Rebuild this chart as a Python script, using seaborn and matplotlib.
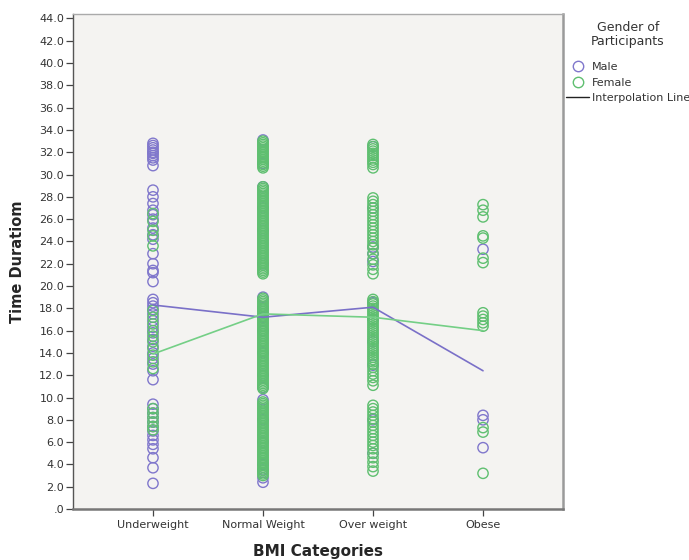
import matplotlib
matplotlib.use("Agg")
import matplotlib.pyplot as plt
from matplotlib.lines import Line2D
import seaborn as sns
import pandas as pd

categories = ["Underweight", "Normal Weight", "Over weight", "Obese"]
genders = ["Male", "Female"]

# Time Duration values, per BMI category and gender
under_male = [32.8, 32.6, 32.4, 32.2, 32.0, 31.9, 31.7, 31.5, 31.3, 30.8,
              28.6, 28.0, 27.4, 26.8, 26.4, 26.0, 25.2, 24.6, 24.2, 22.9, 22.0, 21.4, 21.2, 20.4,
              18.8, 18.5, 18.2, 17.9, 17.5, 16.9, 16.3, 15.8, 15.2, 14.6, 14.0, 13.5, 13.0, 12.4, 11.6,
              9.4, 9.0, 8.6, 8.2, 7.8, 7.4, 7.0, 6.6, 6.2, 5.8, 5.4, 4.6, 3.7, 2.3]
under_female = [26.5, 25.8, 25.0, 24.5, 23.6,
                17.8, 17.2, 16.6, 16.0, 15.5, 15.0, 14.4, 13.8, 13.2, 12.6,
                9.0, 8.6, 8.2, 7.8, 7.4, 7.1]
normal_male = [33.1, 31.0, 28.9, 27.0, 25.0, 22.0, 19.0, 18.0, 17.2, 16.0, 14.0, 12.0,
               10.9, 9.8, 8.0, 6.0, 4.0, 3.5, 2.8, 2.4]
normal_female = [33.0, 32.85, 32.7, 32.55, 32.4, 32.25, 32.1, 31.95, 31.8, 31.65, 31.5,
                 31.35, 31.2, 31.05, 30.9, 30.75, 30.6,
                 28.9, 28.75, 28.6, 28.45, 28.3, 28.15, 28.0, 27.85, 27.7, 27.55, 27.4, 27.25,
                 27.1, 26.95, 26.8, 26.65, 26.5, 26.35, 26.2, 26.05, 25.9, 25.75, 25.6, 25.45,
                 25.3, 25.15, 25.0, 24.85, 24.7, 24.55, 24.4, 24.25, 24.1, 23.95, 23.8, 23.65,
                 23.5, 23.35, 23.2, 23.05, 22.9, 22.75, 22.6, 22.45, 22.3, 22.15, 22.0, 21.85,
                 21.7, 21.55, 21.4, 21.25, 21.1,
                 18.9, 18.75, 18.6, 18.45, 18.3, 18.15, 18.0, 17.85, 17.7, 17.55, 17.4, 17.25,
                 17.1, 16.95, 16.8, 16.65, 16.5, 16.35, 16.2, 16.05, 15.9, 15.75, 15.6, 15.45,
                 15.3, 15.15, 15.0, 14.85, 14.7, 14.55, 14.4, 14.25, 14.1, 13.95, 13.8, 13.65,
                 13.5, 13.35, 13.2, 13.05, 12.9, 12.75, 12.6, 12.45, 12.3, 12.15, 12.0, 11.85,
                 11.7, 11.55, 11.4, 11.25, 11.1, 10.95, 10.8,
                 9.6, 9.45, 9.3, 9.15, 9.0, 8.85, 8.7, 8.55, 8.4, 8.25, 8.1, 7.95, 7.8, 7.65,
                 7.5, 7.35, 7.2, 7.05, 6.9, 6.75, 6.6, 6.45, 6.3, 6.15, 6.0, 5.85, 5.7, 5.55,
                 5.4, 5.25, 5.1, 4.95, 4.8, 4.65, 4.5, 4.35, 4.2, 4.05, 3.9, 3.75, 3.6, 3.45,
                 3.3, 3.15, 3.0]
over_male = [32.5, 27.0, 23.5, 22.9, 22.2, 18.5, 17.0, 15.0, 12.9, 8.0, 5.0]
over_female = [32.7, 32.5, 32.3, 32.1, 31.9, 31.7, 31.5, 31.3, 31.1, 30.9, 30.6,
               27.9, 27.6, 27.3, 27.0, 26.7, 26.4, 26.1, 25.8, 25.5, 25.2, 24.9, 24.6, 24.3,
               24.0, 23.7, 23.4, 22.9, 22.4, 21.9, 21.5, 21.1,
               18.8, 18.6, 18.4, 18.2, 18.0, 17.8, 17.6, 17.4, 17.2, 17.0, 16.8, 16.6, 16.4,
               16.2, 16.0, 15.8, 15.6, 15.4, 15.2, 15.0, 14.8, 14.6, 14.4, 14.2, 14.0, 13.8,
               13.6, 13.4, 13.2, 13.0, 12.7, 12.4, 12.1, 11.8, 11.5, 11.1,
               9.3, 9.0, 8.7, 8.4, 8.1, 7.8, 7.5, 7.2, 6.9, 6.6, 6.3, 6.0, 5.7, 5.4, 5.0,
               4.6, 4.2, 3.8, 3.4]
obese_male = [23.3, 8.4, 8.0, 5.5]
obese_female = [27.3, 26.8, 26.2, 24.5, 24.3, 22.5, 22.1, 17.6, 17.3, 17.0, 16.7, 16.4,
                7.3, 6.9, 3.2]

# Interpolation line (group means)
male_means = [18.3, 17.2, 18.1, 12.4]
female_means = [13.9, 17.5, 17.2, 16.0]

yticks = [0, 2, 4, 6, 8, 10, 12, 14, 16, 18, 20, 22, 24, 26, 28, 30, 32, 34, 36, 38, 40, 42, 44]

male_lists = [under_male, normal_male, over_male, obese_male]
female_lists = [under_female, normal_female, over_female, obese_female]

rows = []
for cat, vals in zip(categories, male_lists):
    rows += [(cat, "Male", v) for v in vals]
for cat, vals in zip(categories, female_lists):
    rows += [(cat, "Female", v) for v in vals]
df = pd.DataFrame(rows, columns=["BMI", "Gender", "Time"])

means = pd.DataFrame(
    [(c, "Male", m) for c, m in zip(categories, male_means)] +
    [(c, "Female", m) for c, m in zip(categories, female_means)],
    columns=["BMI", "Gender", "Time"])

purple = "#8077cc"
green = "#5fbf70"
palette = {"Male": purple, "Female": green}
line_palette = {"Male": "#7a70c8", "Female": "#74cf86"}

sns.set_style("white")
plt.rcParams["font.family"] = ["DejaVu Sans"]

fig = plt.figure(figsize=(6.89, 5.60), dpi=100)
ax = fig.add_axes([73 / 689, 51 / 560, 490 / 689, 495 / 560])
ax.set_facecolor("#f4f3f1")

sns.scatterplot(data=df, x="BMI", y="Time", hue="Gender", palette=palette,
                marker="o", s=55, linewidth=1.0, legend=False, ax=ax, zorder=2)
coll = ax.collections[0]
coll.set_edgecolors(coll.get_facecolors())
coll.set_facecolor("none")

sns.lineplot(data=means, x="BMI", y="Time", hue="Gender", palette=line_palette,
             linewidth=1.2, legend=False, ax=ax, zorder=3, sort=False)

ax.set_xlim(-0.727, 3.727)
ax.set_ylim(0, 44.4)
ax.set_yticks(yticks)
ax.set_yticklabels([".0" if t == 0 else f"{t:.1f}" for t in yticks])
ax.set_xticks(range(len(categories)))
ax.set_xticklabels(categories)
ax.tick_params(axis="both", which="major", direction="out", length=5, width=0.9,
               color="#444", labelsize=8, labelcolor="#333", pad=1.5, left=True, bottom=True)
ax.tick_params(axis="x", pad=3)

ax.spines["left"].set_color("#555")
ax.spines["left"].set_linewidth(1.0)
ax.spines["bottom"].set_color("#777")
ax.spines["bottom"].set_linewidth(1.8)
ax.spines["right"].set_color("#9a9a9a")
ax.spines["right"].set_linewidth(1.8)
ax.spines["top"].set_color("#aaa")
ax.spines["top"].set_linewidth(1.0)

ax.set_xlabel("BMI Categories", fontsize=11, fontweight="bold", labelpad=10)
ax.set_ylabel("Time Duratiom", fontsize=10.5, fontweight="bold", labelpad=10)

fig.text(628 / 689, 1 - 21 / 560, "Gender of\nParticipants", ha="center", va="top",
         fontsize=9, color="#333", linespacing=1.15)

handles = [
    Line2D([], [], marker="o", linestyle="none", markerfacecolor="none",
           markeredgecolor=purple, markersize=7.5, markeredgewidth=1.0, label="Male"),
    Line2D([], [], marker="o", linestyle="none", markerfacecolor="none",
           markeredgecolor=green, markersize=7.5, markeredgewidth=1.0, label="Female"),
    Line2D([], [], color="#222", linewidth=1.0, label="Interpolation Line"),
]
leg = fig.legend(handles=handles, loc="upper left",
                 bbox_to_anchor=(566 / 689, 1 - 62 / 560), frameon=False,
                 fontsize=8, handlelength=2.1, handletextpad=0.2,
                 labelspacing=0.5, borderaxespad=0, borderpad=0)
for t in leg.get_texts():
    t.set_color("#333")

fig.savefig("out.png", dpi=100)
